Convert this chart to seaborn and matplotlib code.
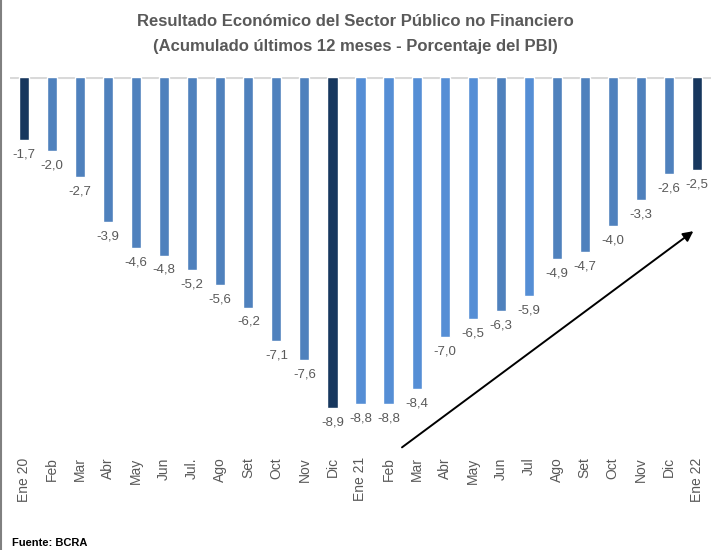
import matplotlib
matplotlib.use("Agg")
import seaborn as sns
import pandas as pd
from matplotlib import pyplot as plt
from matplotlib.lines import Line2D

# data
meses = ["Ene 20", "Feb", "Mar", "Abr", "May", "Jun", "Jul.", "Ago", "Set", "Oct", "Nov", "Dic",
         "Ene 21", "Feb ", "Mar ", "Abr ", "May ", "Jun ", "Jul", "Ago ", "Set ", "Oct ", "Nov ", "Dic ", "Ene 22"]
resultado = [-1.7, -2.0, -2.7, -3.9, -4.6, -4.8, -5.2, -5.6, -6.2, -7.1, -7.6, -8.9,
             -8.8, -8.8, -8.4, -7.0, -6.5, -6.3, -5.9, -4.9, -4.7, -4.0, -3.3, -2.6, -2.5]
tono = ["osc"] + ["med"] * 10 + ["osc"] + ["cla"] * 5 + ["med"] + ["cla"] + ["med"] * 5 + ["osc"]

paleta = {"osc": "#17375E", "med": "#4F81BD", "cla": "#558ED5"}

df = pd.DataFrame({"Mes": meses, "Resultado": resultado, "Tono": tono})

sns.set_theme(style="white")
plt.rcParams['font.family'] = ['Liberation Sans', 'DejaVu Sans']

fig = plt.figure(figsize=(7.11, 5.5), dpi=100)
ax = fig.add_axes([10 / 711, 0.1836, 701 / 711, 0.86 - 0.1836])

sns.barplot(data=df, x="Mes", y="Resultado", hue="Tono", palette=paleta,
            width=0.36, legend=False, dodge=False, ax=ax, saturation=1)

ax.set_xlim(-0.5, 24.5)
ax.set_ylim(-10, 0)
ax.axhline(0, color="#D9D9D9", linewidth=2.2, zorder=0)

for i, v in enumerate(resultado):
    ax.annotate(f"{v:.1f}".replace(".", ","), (i, v), xytext=(0, -6), textcoords="offset points",
                ha="center", va="top", fontsize=9.5, color="#595959")

ax.set_xticks(range(len(meses)))
ax.set_xticklabels([m.strip() for m in meses], rotation=90, fontsize=10, color="#595959")
ax.tick_params(axis="x", length=0, pad=6)
ax.set_yticks([])
ax.set_xlabel("")
ax.set_ylabel("")
for s in ax.spines.values():
    s.set_visible(False)

# flecha de recuperacion
ax.annotate("", xy=(23.95, -4.1), xytext=(13.4, -10.0),
            arrowprops=dict(arrowstyle="-|>", color="black", lw=1.4, mutation_scale=15),
            annotation_clip=False)

fig.text(0.5, 1 - 22 / 550, "Resultado Económico del Sector Público no Financiero",
         ha="center", va="center", fontsize=12, fontweight="bold", color="#595959")
fig.text(0.5, 1 - 46 / 550, "(Acumulado últimos 12 meses - Porcentaje del PBI)",
         ha="center", va="center", fontsize=12, fontweight="bold", color="#595959")
fig.text(12 / 711, 2 / 550, "Fuente: BCRA", ha="left", va="bottom", fontsize=8,
         fontweight="bold", color="black")

fig.add_artist(Line2D([1.5 / 711, 1.5 / 711], [0, 1], color="#808080", lw=1.5))

plt.savefig("out.png", dpi=100)
